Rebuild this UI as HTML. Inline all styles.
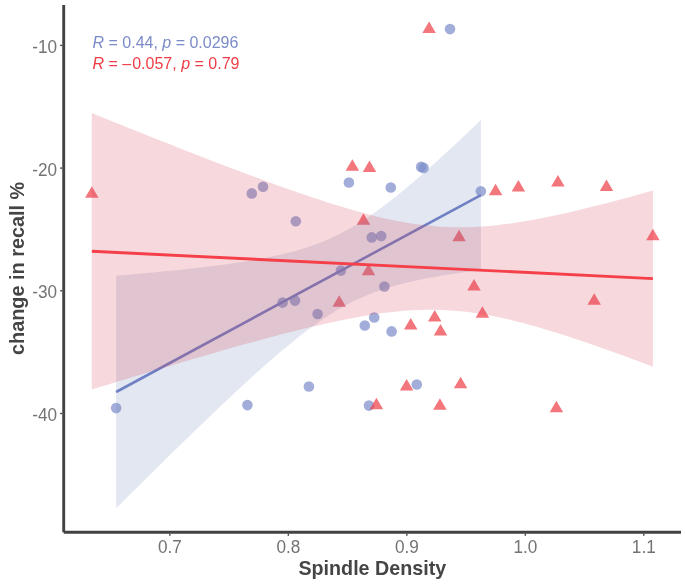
<!DOCTYPE html>
<html><head><meta charset="utf-8"><style>
html,body{margin:0;padding:0;background:#fff;}
body{width:685px;height:585px;position:relative;overflow:hidden;font-family:"Liberation Sans",sans-serif;}
</style></head><body>
<svg width="685" height="585" viewBox="0 0 685 585" style="position:absolute;left:0;top:0;will-change:transform">
<g fill="#7B8BC9" fill-opacity="0.7"><circle cx="450.0" cy="29.1" r="5.30"/><circle cx="251.8" cy="193.4" r="5.30"/><circle cx="263.0" cy="186.7" r="5.30"/><circle cx="295.8" cy="221.2" r="5.30"/><circle cx="348.9" cy="182.5" r="5.30"/><circle cx="390.8" cy="187.5" r="5.30"/><circle cx="421.1" cy="166.9" r="5.30"/><circle cx="423.6" cy="167.9" r="5.30"/><circle cx="480.9" cy="191.2" r="5.30"/><circle cx="371.7" cy="237.4" r="5.30"/><circle cx="381.2" cy="236.1" r="5.30"/><circle cx="340.9" cy="270.6" r="5.30"/><circle cx="384.4" cy="286.5" r="5.30"/><circle cx="282.6" cy="302.6" r="5.30"/><circle cx="295.0" cy="300.6" r="5.30"/><circle cx="317.6" cy="314.0" r="5.30"/><circle cx="374.2" cy="317.5" r="5.30"/><circle cx="364.8" cy="325.5" r="5.30"/><circle cx="391.6" cy="331.4" r="5.30"/><circle cx="308.9" cy="386.5" r="5.30"/><circle cx="416.8" cy="384.5" r="5.30"/><circle cx="116.1" cy="408.1" r="5.30"/><circle cx="247.4" cy="405.1" r="5.30"/><circle cx="369.0" cy="405.6" r="5.30"/></g>
<g fill="#F03C46" fill-opacity="0.7"><polygon points="429.10,21.40 435.85,32.90 422.35,32.90"/><polygon points="91.80,186.17 98.55,197.67 85.05,197.67"/><polygon points="352.40,159.37 359.15,170.87 345.65,170.87"/><polygon points="369.50,160.50 376.25,172.00 362.75,172.00"/><polygon points="363.50,213.33 370.25,224.83 356.75,224.83"/><polygon points="495.60,183.80 502.35,195.30 488.85,195.30"/><polygon points="518.40,179.90 525.15,191.40 511.65,191.40"/><polygon points="557.90,175.03 564.65,186.53 551.15,186.53"/><polygon points="606.50,179.57 613.25,191.07 599.75,191.07"/><polygon points="459.10,229.83 465.85,241.33 452.35,241.33"/><polygon points="652.90,228.87 659.65,240.37 646.15,240.37"/><polygon points="368.50,263.83 375.25,275.33 361.75,275.33"/><polygon points="339.20,295.37 345.95,306.87 332.45,306.87"/><polygon points="474.00,279.10 480.75,290.60 467.25,290.60"/><polygon points="594.20,293.27 600.95,304.77 587.45,304.77"/><polygon points="482.40,306.20 489.15,317.70 475.65,317.70"/><polygon points="434.70,310.10 441.45,321.60 427.95,321.60"/><polygon points="410.70,318.03 417.45,329.53 403.95,329.53"/><polygon points="440.50,324.07 447.25,335.57 433.75,335.57"/><polygon points="376.40,397.70 383.15,409.20 369.65,409.20"/><polygon points="406.60,378.93 413.35,390.43 399.85,390.43"/><polygon points="460.60,376.87 467.35,388.37 453.85,388.37"/><polygon points="439.90,398.13 446.65,409.63 433.15,409.63"/><polygon points="556.40,400.83 563.15,412.33 549.65,412.33"/></g>
<polygon fill="#6E87B9" fill-opacity="0.2" points="116.10,275.72 120.72,275.32 125.34,274.93 129.95,274.52 134.57,274.12 139.19,273.70 143.81,273.28 148.42,272.86 153.04,272.43 157.66,271.99 162.28,271.54 166.89,271.09 171.51,270.63 176.13,270.16 180.75,269.68 185.37,269.18 189.98,268.68 194.60,268.17 199.22,267.64 203.84,267.10 208.45,266.55 213.07,265.98 217.69,265.39 222.31,264.78 226.93,264.16 231.54,263.51 236.16,262.84 240.78,262.14 245.40,261.42 250.01,260.66 254.63,259.87 259.25,259.05 263.87,258.18 268.48,257.27 273.10,256.32 277.72,255.31 282.34,254.25 286.96,253.12 291.57,251.93 296.19,250.66 300.81,249.31 305.43,247.88 310.04,246.36 314.66,244.73 319.28,243.00 323.90,241.16 328.52,239.19 333.13,237.11 337.75,234.90 342.37,232.55 346.99,230.08 351.60,227.48 356.22,224.74 360.84,221.87 365.46,218.89 370.07,215.78 374.69,212.55 379.31,209.22 383.93,205.79 388.55,202.26 393.16,198.65 397.78,194.95 402.40,191.18 407.02,187.34 411.63,183.44 416.25,179.47 420.87,175.46 425.49,171.39 430.11,167.29 434.72,163.14 439.34,158.95 443.96,154.73 448.58,150.48 453.19,146.20 457.81,141.89 462.43,137.56 467.05,133.21 471.66,128.83 476.28,124.44 480.90,120.03 480.90,270.15 476.28,270.72 471.66,271.31 467.05,271.93 462.43,272.56 457.81,273.21 453.19,273.89 448.58,274.60 443.96,275.33 439.34,276.10 434.72,276.89 430.11,277.73 425.49,278.61 420.87,279.53 416.25,280.50 411.63,281.52 407.02,282.60 402.40,283.75 397.78,284.96 393.16,286.25 388.55,287.62 383.93,289.08 379.31,290.63 374.69,292.29 370.07,294.05 365.46,295.93 360.84,297.92 356.22,300.04 351.60,302.29 346.99,304.67 342.37,307.18 337.75,309.83 333.13,312.60 328.52,315.50 323.90,318.52 319.28,321.67 314.66,324.92 310.04,328.28 305.43,331.74 300.81,335.29 296.19,338.93 291.57,342.65 286.96,346.44 282.34,350.30 277.72,354.22 273.10,358.20 268.48,362.23 263.87,366.31 259.25,370.43 254.63,374.59 250.01,378.79 245.40,383.02 240.78,387.28 236.16,391.56 231.54,395.88 226.93,400.22 222.31,404.57 217.69,408.95 213.07,413.35 208.45,417.77 203.84,422.20 199.22,426.64 194.60,431.10 189.98,435.57 185.37,440.06 180.75,444.55 176.13,449.06 171.51,453.57 166.89,458.09 162.28,462.63 157.66,467.16 153.04,471.71 148.42,476.27 143.81,480.83 139.19,485.39 134.57,489.96 129.95,494.54 125.34,499.12 120.72,503.71 116.10,508.30"/>
<line x1="116.10" y1="392.01" x2="480.90" y2="195.09" stroke="#7080C4" stroke-width="2.6"/>
<polygon fill="#D73C50" fill-opacity="0.2" points="91.80,113.08 98.90,115.95 106.01,118.82 113.11,121.68 120.21,124.54 127.31,127.39 134.42,130.23 141.52,133.07 148.62,135.90 155.72,138.72 162.83,141.54 169.93,144.35 177.03,147.14 184.13,149.93 191.24,152.71 198.34,155.48 205.44,158.23 212.54,160.98 219.65,163.71 226.75,166.42 233.85,169.12 240.95,171.80 248.06,174.46 255.16,177.11 262.26,179.73 269.36,182.32 276.47,184.90 283.57,187.44 290.67,189.95 297.77,192.43 304.88,194.87 311.98,197.27 319.08,199.62 326.18,201.93 333.29,204.18 340.39,206.37 347.49,208.50 354.59,210.55 361.70,212.53 368.80,214.42 375.90,216.21 383.00,217.90 390.11,219.48 397.21,220.94 404.31,222.26 411.41,223.45 418.52,224.48 425.62,225.36 432.72,226.08 439.82,226.64 446.93,227.02 454.03,227.24 461.13,227.29 468.23,227.17 475.34,226.90 482.44,226.47 489.54,225.91 496.64,225.20 503.75,224.37 510.85,223.42 517.95,222.37 525.05,221.22 532.16,219.97 539.26,218.64 546.36,217.24 553.46,215.77 560.57,214.24 567.67,212.65 574.77,211.01 581.87,209.32 588.98,207.59 596.08,205.82 603.18,204.01 610.28,202.18 617.39,200.31 624.49,198.42 631.59,196.50 638.69,194.56 645.80,192.59 652.90,190.61 652.90,366.64 645.80,363.97 638.69,361.32 631.59,358.68 624.49,356.07 617.39,353.49 610.28,350.93 603.18,348.40 596.08,345.91 588.98,343.44 581.87,341.02 574.77,338.64 567.67,336.31 560.57,334.03 553.46,331.80 546.36,329.64 539.26,327.55 532.16,325.53 525.05,323.59 517.95,321.75 510.85,320.00 503.75,318.36 496.64,316.84 489.54,315.44 482.44,314.18 475.34,313.07 468.23,312.10 461.13,311.30 454.03,310.66 446.93,310.18 439.82,309.87 432.72,309.74 425.62,309.76 418.52,309.95 411.41,310.30 404.31,310.79 397.21,311.42 390.11,312.19 383.00,313.07 375.90,314.07 368.80,315.17 361.70,316.37 354.59,317.66 347.49,319.02 340.39,320.45 333.29,321.96 326.18,323.52 319.08,325.13 311.98,326.79 304.88,328.50 297.77,330.25 290.67,332.04 283.57,333.86 276.47,335.71 269.36,337.59 262.26,339.49 255.16,341.42 248.06,343.37 240.95,345.35 233.85,347.34 226.75,349.34 219.65,351.37 212.54,353.40 205.44,355.45 198.34,357.52 191.24,359.59 184.13,361.68 177.03,363.78 169.93,365.88 162.83,368.00 155.72,370.12 148.62,372.26 141.52,374.39 134.42,376.54 127.31,378.69 120.21,380.85 113.11,383.02 106.01,385.19 98.90,387.36 91.80,389.54"/>
<line x1="91.80" y1="251.31" x2="652.90" y2="278.63" stroke="#F5404A" stroke-width="2.9"/>
<g stroke="#424242" stroke-width="2.9" fill="none">
<line x1="63.7" y1="5" x2="63.7" y2="532.3"/>
<line x1="63.7" y1="532.3" x2="681" y2="532.3"/>
</g>
<g stroke="#424242" stroke-width="1.4">
<line x1="60.2" y1="45.40" x2="62.2" y2="45.40"/><line x1="60.2" y1="168.10" x2="62.2" y2="168.10"/><line x1="60.2" y1="290.80" x2="62.2" y2="290.80"/><line x1="60.2" y1="413.50" x2="62.2" y2="413.50"/><line x1="169.85" y1="533.7" x2="169.85" y2="535.8"/><line x1="288.34" y1="533.7" x2="288.34" y2="535.8"/><line x1="406.83" y1="533.7" x2="406.83" y2="535.8"/><line x1="525.32" y1="533.7" x2="525.32" y2="535.8"/><line x1="643.81" y1="533.7" x2="643.81" y2="535.8"/></g>
<g font-family="Liberation Sans, sans-serif" font-size="17.8" fill="#737373"><text transform="translate(57.0,53.00) scale(0.965,1)" text-anchor="end">-10</text><text transform="translate(57.0,175.70) scale(0.965,1)" text-anchor="end">-20</text><text transform="translate(57.0,298.40) scale(0.965,1)" text-anchor="end">-30</text><text transform="translate(57.0,421.10) scale(0.965,1)" text-anchor="end">-40</text><text transform="translate(169.85,552.6) scale(0.965,1)" text-anchor="middle">0.7</text><text transform="translate(288.34,552.6) scale(0.965,1)" text-anchor="middle">0.8</text><text transform="translate(406.83,552.6) scale(0.965,1)" text-anchor="middle">0.9</text><text transform="translate(525.32,552.6) scale(0.965,1)" text-anchor="middle">1.0</text><text transform="translate(643.81,552.6) scale(0.965,1)" text-anchor="middle">1.1</text></g>
<g font-family="Liberation Sans, sans-serif" font-size="19.6" font-weight="bold" fill="#454545"><text x="372.3" y="574.6" text-anchor="middle" font-size="19.7">Spindle Density</text><text transform="translate(23.9,268.4) rotate(-90)" text-anchor="middle" font-size="19.85">change in recall %</text></g>
<g font-family="Liberation Sans, sans-serif" font-size="16.0" xml:space="preserve"><text x="92.5" y="47.7" fill="#7B8BC9"><tspan font-style="italic">R</tspan> = 0.44, <tspan font-style="italic">p</tspan> = 0.0296</text><text x="92.5" y="68.7" fill="#F03C46"><tspan font-style="italic">R</tspan> = –<tspan dx="1">0.057</tspan>, <tspan font-style="italic">p</tspan> = 0.79</text></g>
</svg>
</body></html>
